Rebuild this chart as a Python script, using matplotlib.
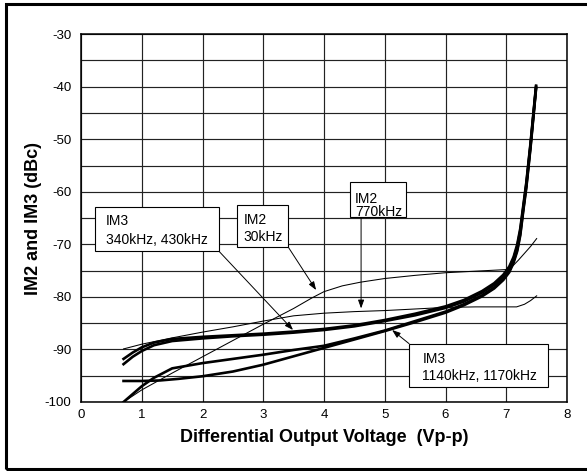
import matplotlib
matplotlib.use('Agg')
import matplotlib.pyplot as plt
from matplotlib.patches import Rectangle

plt.rcParams['font.family'] = ['Liberation Sans', 'DejaVu Sans']
plt.rcParams['axes.unicode_minus'] = False

# output swing (Vp-p) vs distortion (dBc)
x_tail = [6.0, 6.3, 6.6, 6.8, 6.95, 7.05, 7.12, 7.18, 7.23, 7.28, 7.33, 7.4, 7.49]

# IM3 340kHz / 430kHz
im3_340_x = [0.7, 0.85, 1.0, 1.2, 1.5, 2.0, 2.5, 3.0, 3.5, 4.0, 4.5, 5.0, 5.5] + x_tail
im3_340_y = [-91.8, -90.6, -89.6, -88.7, -88.0, -87.6, -87.3, -87.0, -86.6, -86.1, -85.4, -84.4, -83.2,
             -81.8, -80.6, -78.9, -77.4, -75.8, -74.2, -72.4, -70.0, -67.0, -62.6, -58.2, -50.6, -39.8]
im3_430_x = im3_340_x
im3_430_y = [-92.8, -91.4, -90.3, -89.2, -88.4, -87.9, -87.5, -87.2, -86.8, -86.3, -85.6, -84.6, -83.5,
             -82.1, -80.9, -79.2, -77.7, -76.1, -74.5, -72.7, -70.4, -67.4, -63.0, -58.5, -50.9, -40.0]

# IM3 1140kHz / 1170kHz
im3_1140_x = [0.7, 0.85, 1.0, 1.2, 1.5, 2.0, 2.5, 3.0, 3.5, 4.0, 4.5, 5.0, 5.5] + x_tail
im3_1140_y = [-100.0, -98.5, -97.0, -95.4, -93.6, -92.6, -91.8, -91.0, -90.1, -89.3, -87.9, -86.4, -84.6,
              -82.8, -81.4, -79.7, -78.2, -76.6, -75.0, -73.2, -71.0, -68.0, -63.3, -58.9, -51.2, -40.2]
im3_1170_x = [0.7, 1.0, 1.3, 1.6, 2.0, 2.5, 3.0, 3.5, 4.0, 4.5, 5.0, 5.5] + x_tail
im3_1170_y = [-96.0, -96.0, -95.9, -95.6, -95.1, -94.2, -92.9, -91.3, -89.7, -88.1, -86.5, -84.8,
              -83.0, -81.6, -79.9, -78.4, -76.8, -75.3, -73.5, -71.3, -68.3, -63.6, -59.2, -51.5, -40.4]

# IM2 30kHz / 770kHz
im2_30_x = [0.7, 1.0, 1.5, 2.0, 2.5, 3.0, 3.5, 3.8, 4.0, 4.3, 4.6, 5.0, 5.5, 6.0, 6.5, 7.0, 7.1, 7.2, 7.3, 7.4, 7.5]
im2_30_y = [-100.0, -97.7, -94.5, -91.4, -88.3, -85.2, -82.2, -80.2, -79.0, -77.9, -77.2, -76.5, -75.9,
            -75.4, -75.1, -74.8, -74.2, -73.0, -71.7, -70.4, -68.9]
im2_770_x = [0.7, 1.0, 1.5, 2.0, 2.5, 3.0, 3.5, 4.0, 4.5, 5.0, 5.5, 6.0, 6.5, 7.0, 7.17, 7.3, 7.4, 7.5]
im2_770_y = [-89.9, -89.0, -87.8, -86.7, -85.7, -84.6, -83.6, -83.1, -82.8, -82.6, -82.3, -82.0, -81.9,
             -81.9, -81.9, -81.4, -80.7, -79.8]

x_ticks = [0, 1, 2, 3, 4, 5, 6, 7, 8]
y_ticks = [-100, -90, -80, -70, -60, -50, -40, -30]
y_grid = [-95, -85, -75, -65, -55, -45, -35]

fig = plt.figure(figsize=(5.87, 4.71), dpi=100)
ax = fig.add_axes([0.138, 0.1465, 0.828, 0.781])

# black frame around the whole figure
fig.patches.append(Rectangle((0.0102, 0.0036), 1.2, 0.9885, transform=fig.transFigure,
                             fill=False, ec='black', lw=2.2))

for xs, ys in [(im3_1170_x, im3_1170_y), (im3_1140_x, im3_1140_y),
               (im3_430_x, im3_430_y), (im3_340_x, im3_340_y)]:
    ax.plot(xs, ys, color='black', lw=1.9, zorder=3)
ax.plot(im2_30_x, im2_30_y, color='black', lw=0.75, zorder=3)
ax.plot(im2_770_x, im2_770_y, color='black', lw=0.75, zorder=3)

ax.set_xlim(0, 8)
ax.set_ylim(-100, -30)
ax.set_xticks(x_ticks)
ax.set_yticks(y_ticks)
ax.set_yticks(y_grid, minor=True)
ax.grid(which='both', color='#222222', lw=0.85)
ax.set_axisbelow(True)
ax.tick_params(which='both', length=0, labelsize=9.5)
ax.tick_params(axis='y', pad=7)
ax.tick_params(axis='x', pad=5)
for sp in ax.spines.values():
    sp.set_linewidth(1.1)

ax.set_xlabel('Differential Output Voltage  (Vp-p)', fontsize=13, fontweight='bold', labelpad=6)
ax.set_ylabel('IM2 and IM3 (dBc)', fontsize=13, fontweight='bold', labelpad=2)

arrow = dict(arrowstyle='-|>,head_length=0.5,head_width=0.18', color='black', lw=0.7,
             shrinkA=0, shrinkB=0)

# callout boxes
boxes = [
    ((0.23, -71.3), 2.04, 8.4),
    ((2.57, -70.5), 0.84, 8.0),
    ((4.43, -64.8), 0.92, 6.6),
    ((5.40, -97.1), 2.29, 8.1),
]
for (bx, by), bw, bh in boxes:
    ax.add_patch(Rectangle((bx, by), bw, bh, fc='white', ec='black', lw=0.8, zorder=5))

ax.annotate('', xy=(3.49, -86.3), xytext=(2.27, -71.3), arrowprops=arrow, zorder=4)
ax.annotate('', xy=(3.87, -78.7), xytext=(3.41, -70.5), arrowprops=arrow, zorder=4)
ax.annotate('', xy=(4.61, -82.2), xytext=(4.61, -64.8), arrowprops=arrow, zorder=4)
ax.annotate('', xy=(5.12, -86.3), xytext=(5.40, -88.9), arrowprops=arrow, zorder=4)

ax.text(0.41, -66.4, 'IM3', fontsize=10, zorder=6)
ax.text(0.41, -70.0, '340kHz, 430kHz', fontsize=10, zorder=6)
ax.text(2.68, -66.1, 'IM2', fontsize=10, zorder=6)
ax.text(2.68, -69.4, '30kHz', fontsize=10, zorder=6)
ax.text(4.51, -62.2, 'IM2', fontsize=10, zorder=6)
ax.text(4.51, -64.6, '770kHz', fontsize=10, zorder=6)
ax.text(5.62, -92.5, 'IM3', fontsize=10, zorder=6)
ax.text(5.62, -95.8, '1140kHz, 1170kHz', fontsize=10, zorder=6)

fig.savefig('out.png', dpi=100)
